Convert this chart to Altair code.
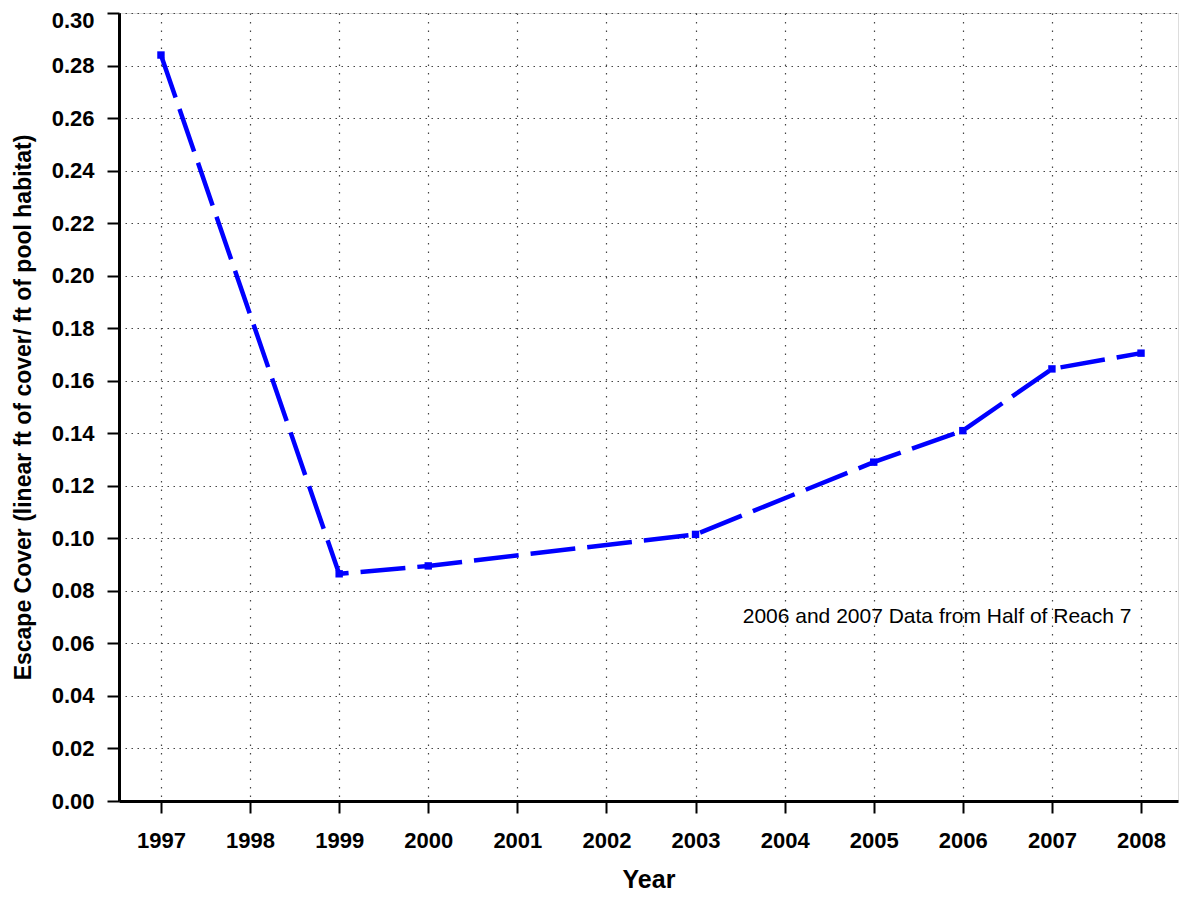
import altair as alt
import pandas as pd

years = [1997, 1999, 2000, 2003, 2005, 2006, 2007, 2008]
cover = [0.284, 0.0865, 0.0895, 0.1015, 0.129, 0.141, 0.1645, 0.1705]
year_ticks = list(range(1997, 2009))
y_ticks = [round(i * 0.02, 2) for i in range(16)]
note = "2006 and 2007 Data from Half of Reach 7"

df = pd.DataFrame({"Year": years, "Cover": cover})

FONT = "Liberation Sans"

x_enc = alt.X(
    "Year:Q",
    scale=alt.Scale(domain=[1996.529, 2008.415], nice=False, zero=False),
    axis=alt.Axis(
        values=year_ticks, format="d", title="Year",
        labelFont=FONT, labelFontWeight="bold", labelFontSize=22, labelColor="black",
        titleFont=FONT, titleFontWeight="bold", titleFontSize=25, titleColor="black",
        tickSize=12, tickWidth=2, tickColor="black",
        domainWidth=3, domainColor="black",
        labelPadding=17, titlePadding=16,
        grid=True, gridDash=[1.5, 7], gridColor="#444", gridWidth=1.2,
    ),
)
y_enc = alt.Y(
    "Cover:Q",
    scale=alt.Scale(domain=[0, 0.30], nice=False),
    axis=alt.Axis(
        values=y_ticks, format=".2f",
        title="Escape Cover (linear ft of cover/ ft of pool habitat)",
        labelFont=FONT, labelFontWeight="bold", labelFontSize=22, labelColor="black",
        labelOffset={"condition": {"test": "datum.value > 0.29", "value": 7}, "value": 0},
        titleFont=FONT, titleFontWeight="bold", titleFontSize=23, titleColor="black",
        tickSize=12, tickWidth=2, tickColor="black",
        domainWidth=3, domainColor="black",
        labelPadding=13, titlePadding=16,
        grid=True, gridDash=[1.5, 4.5], gridColor="#444", gridWidth=1.2,
    ),
)

base = alt.Chart(df)
line = base.mark_line(color="#0000FF", strokeWidth=4.5, strokeDash=[45, 12]).encode(x=x_enc, y=y_enc)
pts = base.mark_square(color="#0000FF", size=55, opacity=1).encode(x="Year:Q", y="Cover:Q")
txt = alt.Chart(pd.DataFrame({"t": [note]})).mark_text(
    font=FONT, fontSize=21, color="black", align="center", baseline="middle"
).encode(x=alt.datum(2005.711), y=alt.datum(0.0700), text="t:N")

chart = (line + pts + txt).properties(
    width=1059, height=788,
    autosize=alt.AutoSizeParams(type="none"),
    padding={"left": 111, "top": 5, "right": 2, "bottom": 92},
).configure_view(stroke="black", strokeWidth=3).configure(background="white")

chart.save("out.html", embed_options={"renderer": "svg", "actions": False})
